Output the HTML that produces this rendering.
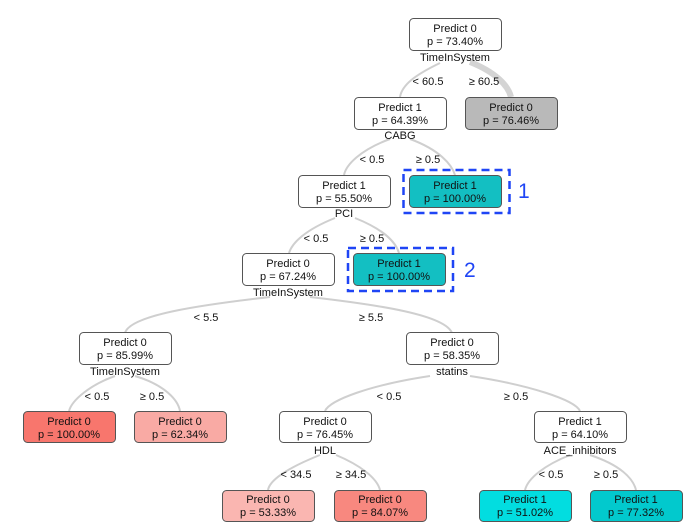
<!DOCTYPE html>
<html><head><meta charset="utf-8"><style>
html,body{margin:0;padding:0;background:#fff;}
svg{display:block;font-family:"Liberation Sans",sans-serif;}
</style></head><body>
<svg width="698" height="532" viewBox="0 0 698 532" xmlns="http://www.w3.org/2000/svg">
<g fill="none" stroke="#cfcfcf" stroke-width="2">
<path d="M440,63 C415,75 402,85 400,97"/>
<path d="M470,62 C495,72 508,85 511,97" stroke-width="6" stroke="#d4d4d4"/>
<path d="M390,139 C360,150 346,165 344,175"/>
<path d="M410,139 C440,150 452,165 455,175"/>
<path d="M335,218 C305,230 292,243 289,253"/>
<path d="M355,218 C385,230 396,243 399,253"/>
<path d="M270,297 C200,305 130,315 125,333"/>
<path d="M310,297 C380,305 445,315 452,333"/>
<path d="M115,376 C90,385 72,400 69,411"/>
<path d="M135,376 C165,385 178,400 180,411"/>
<path d="M430,376 C370,385 330,400 325,411"/>
<path d="M470,376 C530,385 575,400 580,411"/>
<path d="M320,455 C295,465 270,478 268,490"/>
<path d="M336,455 C360,465 377,478 380,490"/>
<path d="M570,455 C545,465 528,478 525,490"/>
<path d="M590,455 C620,465 633,478 636,490"/>
</g>
<g stroke="#555" stroke-width="1">
<rect x="409.5" y="18.5" width="92" height="32" rx="4" fill="#fff"/>
<rect x="354.5" y="97.5" width="92" height="32" rx="4" fill="#fff"/>
<rect x="465.5" y="97.5" width="92" height="32" rx="4" fill="#b9b9b9"/>
<rect x="298.5" y="175.5" width="92" height="32" rx="4" fill="#fff"/>
<rect x="409.5" y="175.5" width="92" height="32" rx="4" fill="#13bfc2"/>
<rect x="242.5" y="253.5" width="92" height="32" rx="4" fill="#fff"/>
<rect x="353.5" y="253.5" width="92" height="32" rx="4" fill="#13bfc2"/>
<rect x="79.5" y="332.5" width="92" height="32" rx="4" fill="#fff"/>
<rect x="406.5" y="332.5" width="92" height="32" rx="4" fill="#fff"/>
<rect x="23.5" y="411.5" width="92" height="31" rx="4" fill="#f8766d"/>
<rect x="134.5" y="411.5" width="92" height="31" rx="4" fill="#f9aaa4"/>
<rect x="279.5" y="411.5" width="92" height="31" rx="4" fill="#fff"/>
<rect x="534.5" y="411.5" width="92" height="31" rx="4" fill="#fff"/>
<rect x="222.5" y="490.5" width="92" height="31" rx="4" fill="#fab6b1"/>
<rect x="334.5" y="490.5" width="92" height="31" rx="4" fill="#f8887f"/>
<rect x="479.5" y="490.5" width="92" height="31" rx="4" fill="#02dde0"/>
<rect x="590.5" y="490.5" width="92" height="31" rx="4" fill="#02c9cd"/>
</g>
<g fill="none" stroke="#1f45f5" stroke-width="2.5" stroke-dasharray="8,5">
<rect x="403.5" y="170" width="106" height="43"/>
<rect x="348" y="248" width="105" height="43"/>
</g>
<g font-size="21" fill="#1f45f5">
<text x="518" y="198">1</text>
<text x="464" y="277">2</text>
</g>
<g font-size="11" fill="#111" text-anchor="middle">
<text x="455" y="32">Predict 0</text><text x="455" y="45">p = 73.40%</text>
<text x="455" y="61">TimeInSystem</text>
<text x="400" y="111">Predict 1</text><text x="400" y="124">p = 64.39%</text>
<text x="400" y="139">CABG</text>
<text x="511" y="111">Predict 0</text><text x="511" y="124">p = 76.46%</text>
<text x="344" y="189">Predict 1</text><text x="344" y="202">p = 55.50%</text>
<text x="344" y="217">PCI</text>
<text x="455" y="189">Predict 1</text><text x="455" y="202">p = 100.00%</text>
<text x="288" y="267">Predict 0</text><text x="288" y="280">p = 67.24%</text>
<text x="288" y="296">TimeInSystem</text>
<text x="399" y="267">Predict 1</text><text x="399" y="280">p = 100.00%</text>
<text x="125" y="346">Predict 0</text><text x="125" y="359">p = 85.99%</text>
<text x="125" y="375">TimeInSystem</text>
<text x="452" y="346">Predict 0</text><text x="452" y="359">p = 58.35%</text>
<text x="452" y="375">statins</text>
<text x="69" y="425">Predict 0</text><text x="69" y="438">p = 100.00%</text>
<text x="180" y="425">Predict 0</text><text x="180" y="438">p = 62.34%</text>
<text x="325" y="425">Predict 0</text><text x="325" y="438">p = 76.45%</text>
<text x="325" y="454">HDL</text>
<text x="580" y="425">Predict 1</text><text x="580" y="438">p = 64.10%</text>
<text x="580" y="454">ACE_inhibitors</text>
<text x="268" y="503">Predict 0</text><text x="268" y="516">p = 53.33%</text>
<text x="380" y="503">Predict 0</text><text x="380" y="516">p = 84.07%</text>
<text x="525" y="503">Predict 1</text><text x="525" y="516">p = 51.02%</text>
<text x="636" y="503">Predict 1</text><text x="636" y="516">p = 77.32%</text>
<text x="428" y="85">&lt; 60.5</text><text x="484" y="85">≥ 60.5</text>
<text x="372" y="163">&lt; 0.5</text><text x="428" y="163">≥ 0.5</text>
<text x="316" y="242">&lt; 0.5</text><text x="372" y="242">≥ 0.5</text>
<text x="206" y="321">&lt; 5.5</text><text x="371" y="321">≥ 5.5</text>
<text x="97" y="400">&lt; 0.5</text><text x="152" y="400">≥ 0.5</text>
<text x="389" y="400">&lt; 0.5</text><text x="516" y="400">≥ 0.5</text>
<text x="296" y="478">&lt; 34.5</text><text x="351" y="478">≥ 34.5</text>
<text x="551" y="478">&lt; 0.5</text><text x="606" y="478">≥ 0.5</text>
</g>
</svg>
</body></html>
